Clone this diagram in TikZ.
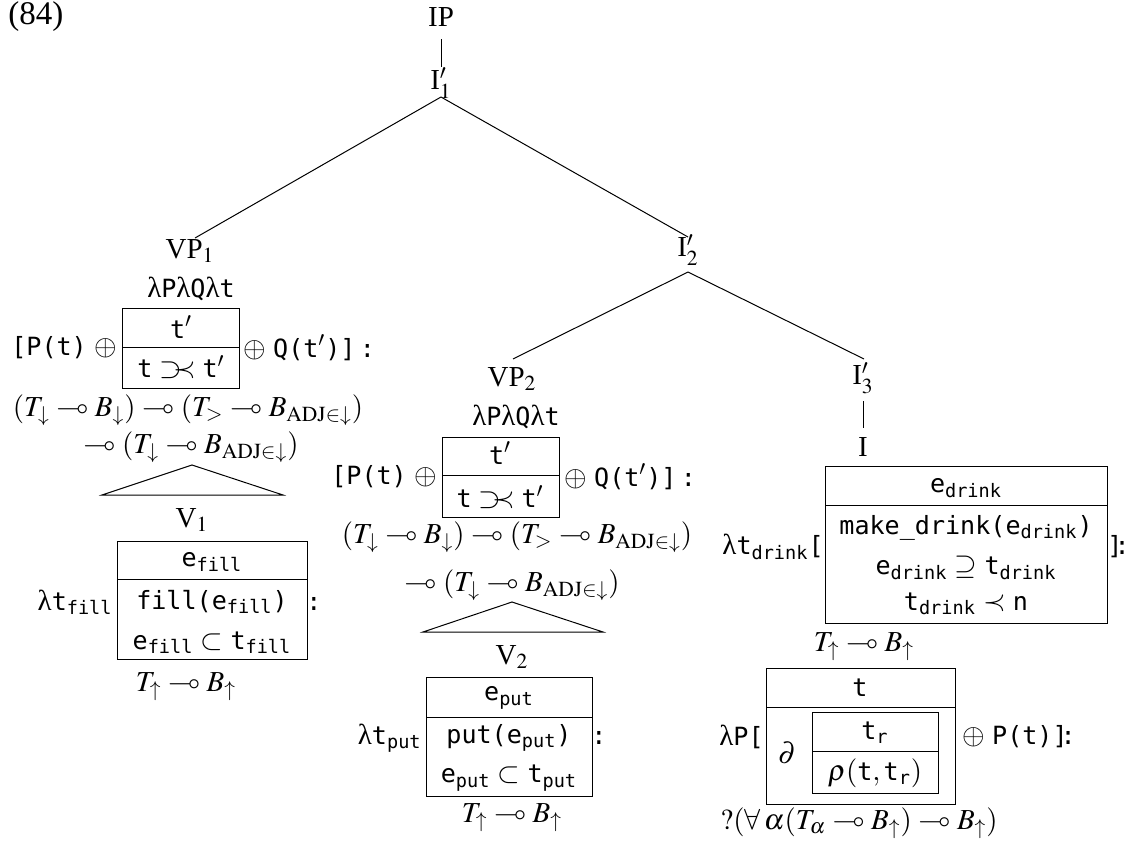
\documentclass[tikz,border=0pt]{standalone}
\usepackage{amsmath}
\usepackage{mathptmx}
\usepackage{amssymb}
\usepackage{fontspec}
\setmainfont{Liberation Serif}
\setmonofont{DejaVu Sans Mono}[Scale=0.865]
\newcommand\abut{\mathrel{\supset\mkern-5mu\prec}}
\newcommand\tsub[2]{$\texttt{#1}_{\texttt{#2}}$}
\begin{document}
\begin{tikzpicture}[x=0.5pt,y=-0.5pt,
  every node/.style={font=\fontsize{14.5}{17}\selectfont, inner sep=0pt},
  lab/.style={inner sep=0pt},
  txt/.style={inner sep=0pt},
  edge/.style={line width=0.5pt},
  cell/.style={draw, line width=0.6pt, inner sep=0pt, anchor=north west}]
\path[use as bounding box] (0,0) rectangle (1135,846);

% tree labels
\node[lab, anchor=west, font=\fontsize{16.5}{19}\selectfont] (ex) at (8,17) {(84)};
\node[lab] (IP) at (441,17) {IP};
\node[lab] (I1) at (441,83) {I$'_1$};
\node[lab] (VP1) at (190,251) {VP$_1$};
\node[lab] (I2) at (688,250) {I$'_2$};
\node[lab] (VP2) at (512,379) {VP$_2$};
\node[lab] (I3) at (863,378) {I$'_3$};
\node[lab] (I) at (863,447) {I};

% tree edges
\draw[edge] ([yshift=-11pt]IP.center) -- ([yshift=8pt]I1.center);
\draw[edge] ([yshift=-7pt]I1.center) -- ([xshift=2.5pt,yshift=6.5pt]VP1.center);
\draw[edge] ([yshift=-7pt]I1.center) -- ([yshift=6.5pt]I2.center);
\draw[edge] ([yshift=-11pt]I2.center) -- ([xshift=0.5pt,yshift=10pt]VP2.center);
\draw[edge] ([yshift=-11pt]I2.center) -- ([xshift=0.5pt,yshift=9.5pt]I3.center);
\draw[edge] ([yshift=-11.5pt]I3.center) -- ([yshift=9.5pt]I.center);

% ---------- VP1 column
\node[txt] (lam1) at (191,289) {λ\texttt{P}λ\texttt{Q}λ\texttt{t}};
\node[cell, minimum width=58.5pt, minimum height=19.5pt] (b1h) at (122,308) {};
\node[cell, minimum width=58.5pt, minimum height=20.5pt] (b1b) at (122,347) {};
\node[txt] (b1t) at (181,327) {$\texttt{t}'$};
\node[txt] (b1r) at (181,367) {$\texttt{t}\abut\texttt{t}'$};
\node[txt, anchor=east] (b1l) at (117,348) {\texttt{[P(t)} $\oplus$};
\node[txt, anchor=west] (b1q) at (243,348) {$\oplus$ \texttt{Q(t$'$)]\,:}};
\node[txt] (ty1a) at (188,410) {$(T_\downarrow\multimap B_\downarrow)\multimap(T_>\multimap B_{\mathrm{ADJ}\in\downarrow})$};
\node[txt] (ty1b) at (191,447) {$\multimap(T_\downarrow\multimap B_{\mathrm{ADJ}\in\downarrow})$};
\coordinate (t1a) at (192,465);
\coordinate (t1l) at (102,495);
\coordinate (t1r) at (283,495);
\draw[edge] (t1a) -- (t1l) -- (t1r) -- cycle;
\node[lab] (V1) at (192,520) {V$_1$};
\node[cell, minimum width=95pt, minimum height=19pt] (f1h) at (117,541) {};
\node[cell, minimum width=95pt, minimum height=40pt] (f1b) at (117,579) {};
\node[txt] (f1e) at (212,562) {\tsub{e}{fill}};
\node[txt] (f1p) at (212,602) {\texttt{fill(}\tsub{e}{fill}\texttt{)}};
\node[txt] (f1s) at (212,643) {\tsub{e}{fill} $\subset$ \tsub{t}{fill}};
\node[txt, anchor=east] (f1l) at (113,602) {λ\tsub{t}{fill}};
\node[txt, anchor=west] (f1c) at (306,604) {\texttt{:}};
\node[txt] (f1ty) at (186,687) {$T_\uparrow\multimap B_\uparrow$};

% ---------- VP2 column
\node[txt] (lam2) at (516,417) {λ\texttt{P}λ\texttt{Q}λ\texttt{t}};
\node[cell, minimum width=58.5pt, minimum height=19pt] (b2h) at (442,437) {};
\node[cell, minimum width=58.5pt, minimum height=21pt] (b2b) at (442,475) {};
\node[txt] (b2t) at (500,453) {$\texttt{t}'$};
\node[txt] (b2r) at (500,497) {$\texttt{t}\abut\texttt{t}'$};
\node[txt, anchor=east] (b2l) at (437,477) {\texttt{[P(t)} $\oplus$};
\node[txt, anchor=west] (b2q) at (564,477) {$\oplus$ \texttt{Q(t$'$)]\,:}};
\node[txt] (ty2a) at (517,537) {$(T_\downarrow\multimap B_\downarrow)\multimap(T_>\multimap B_{\mathrm{ADJ}\in\downarrow})$};
\node[txt] (ty2b) at (512,585) {$\multimap(T_\downarrow\multimap B_{\mathrm{ADJ}\in\downarrow})$};
\coordinate (t2a) at (512,602);
\coordinate (t2l) at (423,632);
\coordinate (t2r) at (603,632);
\draw[edge] (t2a) -- (t2l) -- (t2r) -- cycle;
\node[lab] (V2) at (512,657) {V$_2$};
\node[cell, minimum width=83pt, minimum height=20pt] (p2h) at (426,677) {};
\node[cell, minimum width=83pt, minimum height=39.5pt] (p2b) at (426,717) {};
\node[txt] (p2e) at (509,698) {\tsub{e}{put}};
\node[txt] (p2p) at (509,738) {\texttt{put(}\tsub{e}{put}\texttt{)}};
\node[txt] (p2s) at (509,778) {\tsub{e}{put} $\subset$ \tsub{t}{put}};
\node[txt, anchor=east] (p2l) at (422,738) {λ\tsub{t}{put}};
\node[txt, anchor=west] (p2c) at (591,738) {\texttt{:}};
\node[txt] (p2ty) at (512,818) {$T_\uparrow\multimap B_\uparrow$};

% ---------- I column
\node[cell, minimum width=141pt, minimum height=19.5pt] (d3h) at (825,466) {};
\node[cell, minimum width=141pt, minimum height=59pt] (d3b) at (825,505) {};
\node[txt] (d3e) at (966,488) {\tsub{e}{drink}};
\node[txt] (d3m) at (966,528) {\texttt{make\_drink(}\tsub{e}{drink}\texttt{)}};
\node[txt] (d3s) at (966,568) {\tsub{e}{drink} $\supseteq$ \tsub{t}{drink}};
\node[txt] (d3n) at (966,604) {\tsub{t}{drink} $\prec$ \texttt{n}};
\node[txt, anchor=east] (d3l) at (824,547) {λ\tsub{t}{drink}\texttt{[}};
\node[txt, anchor=west] (d3c) at (1107,547) {\texttt{]}\kern-4pt\texttt{:}};
\node[txt] (d3ty) at (864,647) {$T_\uparrow\multimap B_\uparrow$};

\node[cell, minimum width=94.5pt, minimum height=19.5pt] (r3h) at (766,668) {};
\node[cell, minimum width=94.5pt, minimum height=48.5pt] (r3b) at (766,707) {};
\node[txt] (r3t) at (860,688) {\texttt{t}};
\node[cell, minimum width=63pt, minimum height=19.5pt] (q3h) at (812,712) {};
\node[cell, minimum width=63pt, minimum height=21pt] (q3b) at (812,751) {};
\node[txt] (q3t) at (875,733) {\tsub{t}{r}};
\node[txt] (q3r) at (875,773) {$\rho(\texttt{t},\texttt{t}_{\texttt{r}})$};
\node[txt] (r3d) at (787,753) {$\partial$};
\node[txt, anchor=east] (r3l) at (764,737) {λ\texttt{P[}};
\node[txt, anchor=west] (r3p) at (962,737) {$\oplus$ \texttt{P(t)]}\kern-3.5pt\texttt{:}};
\node[txt, anchor=west] (r3ty) at (720,823) {$?(\forall\,\alpha(T_\alpha\multimap B_\uparrow)\multimap B_\uparrow)$};
\end{tikzpicture}
\end{document}
